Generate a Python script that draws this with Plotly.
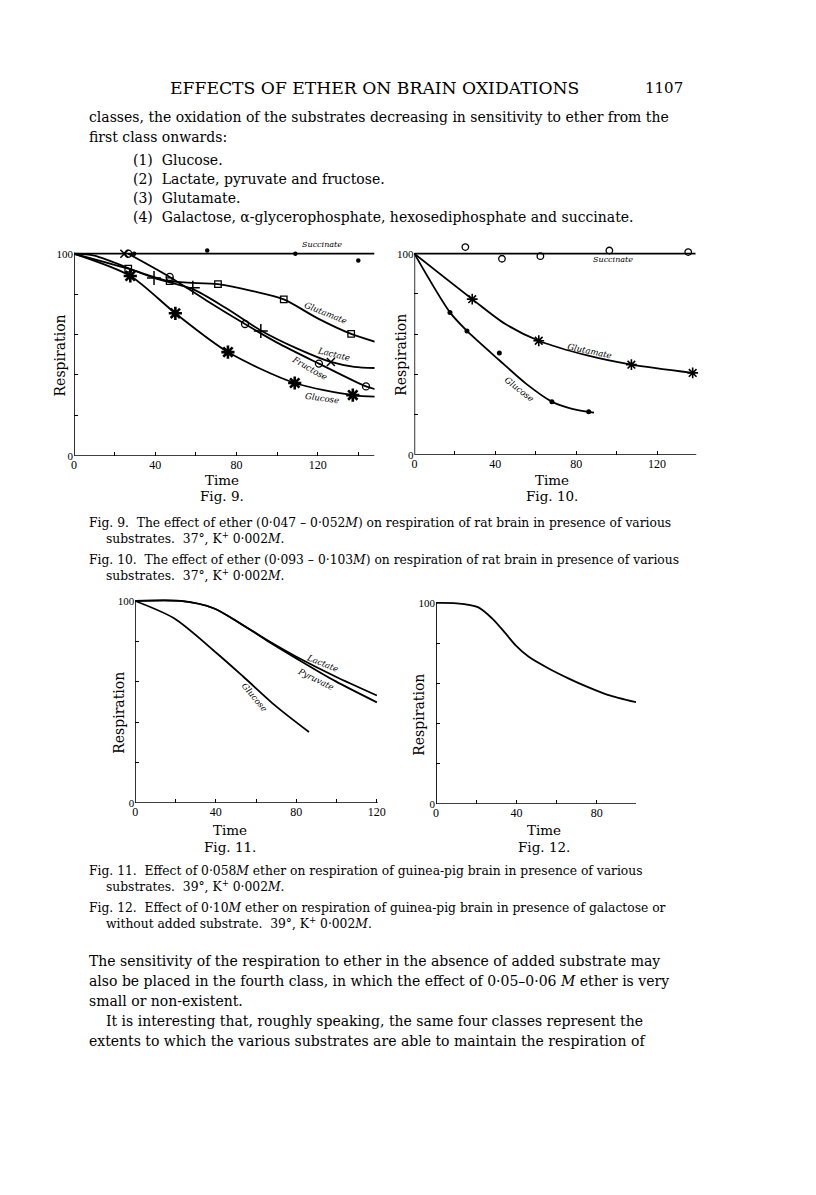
import plotly.graph_objects as go

W, H = 816, 1195
SERIF = "DejaVu Serif"
TIMES = "Liberation Serif"

# ---------------- Fig. 9 (rat brain, 0.047-0.052 M ether) ----------------
f9_succ_line_x = [0, 148]
f9_succ_line_y = [100, 100]
f9_succ_pts_x = [29.6, 65.6, 109, 140]
f9_succ_pts_y = [100, 101.6, 100, 96.7]

f9_gluc_line_x = [0, 27.7, 49.9, 75.8, 108.7, 137.3, 149]
f9_gluc_line_y = [100, 89, 70.5, 51.3, 36, 30, 29.2]
f9_gluc_pts_x = [27.7, 49.9, 75.8, 108.7, 137.3]
f9_gluc_pts_y = [89, 70.5, 51.3, 36, 30]

f9_fruc_line_x = [26.7, 47.1, 65, 84.2, 100, 120.6, 143.8, 149]
f9_fruc_line_y = [100, 88.5, 77, 65.2, 56, 45.6, 34.3, 32.8]
f9_fruc_pts_x = [26.7, 47.1, 84.2, 120.6, 143.8]
f9_fruc_pts_y = [100, 88.5, 65.2, 45.6, 34.3]

f9_lact_line_x = [0, 10, 39.4, 58.5, 75, 92, 110, 126.5, 138, 148.7]
f9_lact_line_y = [100, 99, 88, 82.5, 73, 62, 53, 46.4, 44, 43.4]
f9_lact_plus_x = [39.4, 58.5, 92, 148.7]
f9_lact_plus_y = [88, 83.1, 61.8, 43.4]
f9_lact_x_x = [24.8, 126.5]
f9_lact_x_y = [100, 46.4]

f9_glut_line_x = [0, 26.7, 47.1, 70.9, 88, 103.3, 120, 136.5, 149]
f9_glut_line_y = [100, 92.6, 86.4, 84.9, 81.5, 77.4, 68, 60.3, 56.2]
f9_glut_pts_x = [26.7, 47.1, 70.9, 103.3, 136.5]
f9_glut_pts_y = [92.6, 86.4, 84.9, 77.4, 60.3]

# ---------------- Fig. 10 (rat brain, 0.093-0.103 M ether) ----------------
f10_succ_line_x = [0, 139]
f10_succ_line_y = [100, 100]
f10_succ_pts_x = [25.2, 43.3, 62.3, 96.4, 135.4]
f10_succ_pts_y = [103.3, 97.5, 98.8, 101.6, 100.8]

f10_glut_line_x = [0, 28.6, 45, 61.5, 85, 107.3, 137.6]
f10_glut_line_y = [100, 77.4, 65, 56.7, 49.5, 44.8, 40.7]
f10_glut_pts_x = [28.6, 61.5, 107.3, 137.6]
f10_glut_pts_y = [77.4, 56.7, 44.8, 40.7]

f10_gluc_line_x = [0, 17.6, 26, 42, 55, 68, 78, 88.8]
f10_gluc_line_y = [100, 70.8, 61.6, 47, 35.5, 26.4, 22.8, 20.9]
f10_gluc_pts_x = [17.6, 26, 42, 68, 86.2]
f10_gluc_pts_y = [70.8, 61.6, 50.6, 26.4, 21.4]

# ---------------- Fig. 11 (guinea-pig brain, 0.058 M ether) ----------------
f11_gluc_x = [0, 19.3, 40.5, 53.6, 70, 86.3]
f11_gluc_y = [100, 91.4, 74.1, 62.6, 47.8, 35.1]
f11_lact_x = [0, 22.6, 38.9, 52, 66.7, 79.8, 99.4, 120]
f11_lact_y = [100, 100, 96.4, 89, 79.9, 72.5, 62.6, 53.2]
f11_pyr_x = [0, 22.6, 38.9, 52, 66.7, 79.8, 99.4, 120]
f11_pyr_y = [100, 100, 96.4, 89, 79.6, 71.7, 60.3, 49.8]

# ---------------- Fig. 12 (guinea-pig brain, 0.10 M ether) ----------------
f12_x = [0, 10.1, 20.8, 28.1, 34.7, 39.6, 46.1, 56, 65.8, 75.6, 85.4, 100.1]
f12_y = [100, 99.8, 97.9, 92.1, 84.7, 78.9, 73.2, 67.4, 62.5, 58.1, 54.3, 50.5]

y_major = [0, 100]
y_minor = [20, 40, 60, 80]
x_major_120 = [0, 40, 80, 120]
x_major_80 = [0, 40, 80]
x_minor_140 = [20, 60, 100, 140]
x_minor_120 = [20, 60, 100]
x_minor_80 = [20, 60]


def px_x(p):
    return p / W


def px_y(p):
    return 1 - p / H


fig = go.Figure()


def curve(ax, xs, ys):
    fig.add_trace(go.Scatter(
        x=xs, y=ys, xaxis="x" + ax, yaxis="y" + ax, mode="lines",
        line=dict(color="black", width=1.8, shape="spline", smoothing=0.8),
        hoverinfo="skip", showlegend=False))


def points(ax, xs, ys, symbol, size, lw=1.4):
    fig.add_trace(go.Scatter(
        x=xs, y=ys, xaxis="x" + ax, yaxis="y" + ax, mode="markers",
        marker=dict(symbol=symbol, size=size, color="black",
                    line=dict(color="black", width=lw)),
        cliponaxis=False, hoverinfo="skip", showlegend=False))


# Fig. 9
curve("", f9_succ_line_x, f9_succ_line_y)
curve("", f9_gluc_line_x, f9_gluc_line_y)
curve("", f9_fruc_line_x, f9_fruc_line_y)
curve("", f9_lact_line_x, f9_lact_line_y)
curve("", f9_glut_line_x, f9_glut_line_y)
points("", f9_succ_pts_x, f9_succ_pts_y, "circle", 4.5, 0)
points("", f9_gluc_pts_x, f9_gluc_pts_y, "asterisk-open", 11, 2.6)
points("", f9_fruc_pts_x, f9_fruc_pts_y, "circle-open", 7, 1.3)
points("", f9_lact_plus_x, f9_lact_plus_y, "cross-thin-open", 10, 1.5)
points("", f9_lact_x_x, f9_lact_x_y, "x-thin-open", 8, 1.5)
points("", f9_glut_pts_x, f9_glut_pts_y, "square-open", 6.5, 1.3)

# Fig. 10
curve("2", f10_succ_line_x, f10_succ_line_y)
curve("2", f10_glut_line_x, f10_glut_line_y)
curve("2", f10_gluc_line_x, f10_gluc_line_y)
points("2", f10_succ_pts_x, f10_succ_pts_y, "circle-open", 6.5, 1.3)
points("2", f10_glut_pts_x, f10_glut_pts_y, "asterisk-open", 9, 1.6)
points("2", f10_gluc_pts_x, f10_gluc_pts_y, "circle", 5, 0)

# Fig. 11
curve("3", f11_gluc_x, f11_gluc_y)
curve("3", f11_lact_x, f11_lact_y)
curve("3", f11_pyr_x, f11_pyr_y)

# Fig. 12
curve("4", f12_x, f12_y)

# axes: (suffix, x left px, x right px, xmax, y bottom px, y(100) px, major, minor)
axes = [
    ("", 72, 376.6, 148, 458, 255, x_major_120, x_minor_140),
    ("2", 417, 703, 139.5, 457, 255, x_major_120, x_minor_140),
    ("3", 134, 380, 120.5, 807, 604, x_major_120, x_minor_120),
    ("4", 439, 641.7, 99.5, 808, 606, x_major_80, x_minor_80),
]
YMAX = 106
tick_style = dict(ticks="inside", ticklen=4, tickwidth=1.3, tickcolor="black")
shapes = []
for suf, xl, xr, xmax, yb, yt, xmaj, xmin in axes:
    top = yb - (yb - yt) * YMAX / 100
    fig.layout["xaxis" + suf] = dict(
        domain=[px_x(xl), px_x(xr)], range=[0, xmax], anchor="y" + suf,
        showgrid=False, zeroline=False, showline=False,
        tickvals=xmaj, ticktext=[str(v) for v in xmaj],
        minor=dict(tickvals=xmin, showgrid=False, **tick_style),
        tickfont=dict(family=TIMES, size=12, color="black"), **tick_style)
    fig.layout["yaxis" + suf] = dict(
        domain=[px_y(yb), px_y(top)], range=[0, YMAX], anchor="x" + suf,
        showgrid=False, zeroline=False, showline=False,
        tickvals=y_major, ticktext=[str(v) for v in y_major],
        minor=dict(tickvals=y_minor, showgrid=False, **tick_style),
        tickfont=dict(family=TIMES, size=11, color="black"), **tick_style)
    shapes.append(dict(type="line", xref="x" + suf, yref="y" + suf,
                       x0=0, x1=0, y0=0, y1=100,
                       line=dict(color="black", width=1.6)))
    shapes.append(dict(type="line", xref="x" + suf, yref="y" + suf,
                       x0=0, x1=xmax, y0=0, y1=0,
                       line=dict(color="black", width=1.6)))

ann = []


def text(xp, yp, s, size, anchor="left", angle=0, family=SERIF):
    # annotations carry ~3px of padding; compensate for left/right anchors
    if anchor == "left":
        xp -= 3
    elif anchor == "right":
        xp += 3
    ann.append(dict(x=px_x(xp), y=px_y(yp), xref="paper", yref="paper",
                    text=s, showarrow=False, xanchor=anchor, yanchor="middle",
                    textangle=angle,
                    font=dict(family=family, size=size, color="black")))


def label(ax, x, y, s, size=8.5, angle=0):
    ann.append(dict(x=x, y=y, xref="x" + ax, yref="y" + ax, text="<i>" + s + "</i>",
                    showarrow=False, textangle=angle, xanchor="center", yanchor="middle",
                    font=dict(family=SERIF, size=size, color="black")))


# curve labels
label("", 122, 104.5, "Succinate", 8)
label("", 124, 70.5, "Glutamate", 8.5, 22)
label("", 127.6, 50.5, "Lactate", 8.5, 14)
label("", 116, 43.4, "Fructose", 8.5, 30)
label("", 122, 28.7, "Glucose", 8.5, 8)
label("2", 98, 97.2, "Succinate", 8)
label("2", 86.7, 51.4, "Glutamate", 8.5, 12)
label("2", 51.7, 32.5, "Glucose", 8.5, 38)
label("3", 92.9, 69.5, "Lactate", 8.5, 22)
label("3", 89.6, 61.3, "Pyruvate", 8.5, 26)
label("3", 59.3, 52.7, "Glucose", 8.5, 50)

# axis titles and figure numbers
for xp, yp in [(58, 357), (404, 357), (118, 716), (422, 718)]:
    text(xp, yp, "Respiration", 14, "center", -90)
for xp, yp, fno in [(222, 482, "Fig. 9."), (557, 482, "Fig. 10."),
                    (230, 834, "Fig. 11."), (548, 834, "Fig. 12.")]:
    text(xp, yp, "Time", 13.5, "center")
    text(xp, yp + 17, fno, 13.5, "center")

# page text
BODY = 14
CAP = 12.3
text(170, 88, "EFFECTS OF ETHER ON BRAIN OXIDATIONS", 17.2)
text(688, 88, "1107", 15, "right")
text(88, 118, "classes, the oxidation of the substrates decreasing in sensitivity to ether from the", BODY)
text(88, 138, "first class onwards:", BODY)
text(133, 161, "(1)\u00a0 Glucose.", BODY)
text(133, 180, "(2)\u00a0 Lactate, pyruvate and fructose.", BODY)
text(133, 199, "(3)\u00a0 Glutamate.", BODY)
text(133, 218, "(4)\u00a0 Galactose, α-glycerophosphate, hexosediphosphate and succinate.", BODY)

text(88, 526, "Fig. 9.\u00a0 The effect of ether (0·047 – 0·052<i>M</i>) on respiration of rat brain in presence of various", CAP)
text(105, 541, "substrates.\u00a0 37°, K<sup>+</sup> 0·002<i>M</i>.", CAP)
text(88, 563, "Fig. 10.\u00a0 The effect of ether (0·093 – 0·103<i>M</i>) on respiration of rat brain in presence of various", CAP)
text(105, 578, "substrates.\u00a0 37°, K<sup>+</sup> 0·002<i>M</i>.", CAP)
text(88, 875, "Fig. 11.\u00a0 Effect of 0·058<i>M</i> ether on respiration of guinea-pig brain in presence of various", CAP)
text(105, 890, "substrates.\u00a0 39°, K<sup>+</sup> 0·002<i>M</i>.", CAP)
text(88, 913, "Fig. 12.\u00a0 Effect of 0·10<i>M</i> ether on respiration of guinea-pig brain in presence of galactose or", CAP)
text(105, 928, "without added substrate.\u00a0 39°, K<sup>+</sup> 0·002<i>M</i>.", CAP)

text(88, 966, "The sensitivity of the respiration to ether in the absence of added substrate may", BODY)
text(88, 986, "also be placed in the fourth class, in which the effect of 0·05–0·06 <i>M</i> ether is very", BODY)
text(88, 1006, "small or non-existent.", BODY)
text(105, 1026, "It is interesting that, roughly speaking, the same four classes represent the", BODY)
text(88, 1046, "extents to which the various substrates are able to maintain the respiration of", BODY)

fig.update_layout(
    width=W, height=H, margin=dict(l=0, r=0, t=0, b=0),
    paper_bgcolor="white", plot_bgcolor="white",
    shapes=shapes, annotations=ann, showlegend=False,
)

fig.write_html("out.html", config={"displayModeBar": False},
               post_script="document.body.style.margin='0';")
